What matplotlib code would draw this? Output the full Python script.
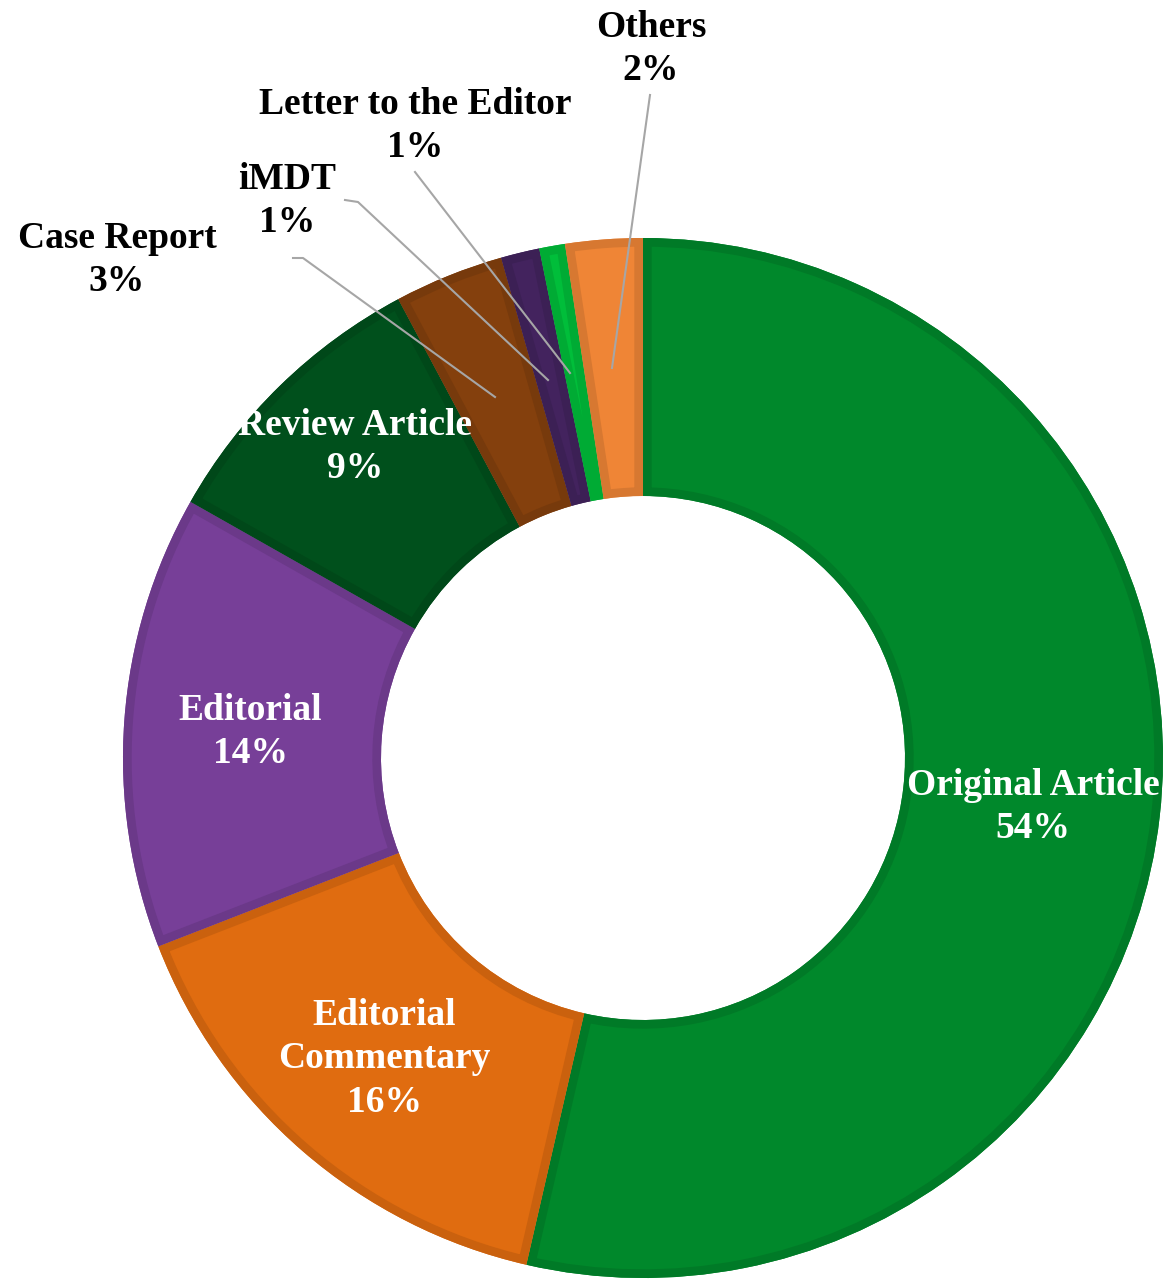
import matplotlib.pyplot as plt
import matplotlib.colors as mcolors
from matplotlib.patches import Wedge
import numpy as np

plt.rcParams['font.family'] = ['Liberation Serif', 'DejaVu Serif']
plt.rcParams['font.weight'] = 'bold'

categories = ["Original Article", "Editorial\nCommentary", "Editorial", "Review Article",
              "Case Report", "iMDT", "Letter to the Editor", "Others"]
shares = [53.6, 15.5, 14.1, 9.0, 3.4, 1.2, 0.8, 2.4]
colors = ["#00882B", "#E06C10", "#773F98", "#00501C",
          "#84400D", "#43235E", "#00BE3A", "#EF8536"]

W, H = 1168, 1284
fig = plt.figure(figsize=(W / 100, H / 100), dpi=100)
ax = fig.add_axes([0, 0, 1, 1])

cx, cy, R = 643, H - 758, 520
wedges, _ = ax.pie(shares, colors=colors, startangle=90, counterclock=False,
                   center=(cx, cy), radius=R, frame=True,
                   wedgeprops=dict(width=258, linewidth=0))
ax.set_xlim(0, W)
ax.set_ylim(0, H)
ax.set_aspect('equal')
ax.axis('off')

# darker border drawn inside each wedge
for w, c in zip(wedges, colors):
    dark = tuple(np.array(mcolors.to_rgb(c)) * 0.9)
    border = Wedge(w.center, w.r, w.theta1, w.theta2, width=w.width,
                   fill=False, edgecolor=dark, linewidth=12.5)
    ax.add_patch(border)
    border.set_clip_path(w)

fs = 27
labels = [f"{c}\n{s:.0f}%" for c, s in zip(categories, shares)]

# labels inside the ring
inside = {0: (1033, 807), 1: (384, 1059), 2: (250, 732), 3: (355, 447)}
for i, (x, y) in inside.items():
    ax.text(x, H - y, labels[i], color='white', fontsize=fs, ha='center', va='center',
            linespacing=1.3)

# labels outside with leader lines
outside = {4: ((117, 260), [(293, 258), (303, 258), (495, 397)]),
           5: ((287, 201), [(345, 200), (358, 202), (548, 380)]),
           6: ((415, 126), [(415, 172), (570, 373)]),
           7: ((651, 49), [(650, 95), (612, 368)])}
for i, ((x, y), pts) in outside.items():
    ax.text(x, H - y, labels[i], color='black', fontsize=fs, ha='center', va='center',
            linespacing=1.3)
    xs = [p[0] for p in pts]
    ys = [H - p[1] for p in pts]
    ax.plot(xs, ys, color='#A6A6A6', linewidth=1.5)

fig.savefig("out.png", dpi=100)
